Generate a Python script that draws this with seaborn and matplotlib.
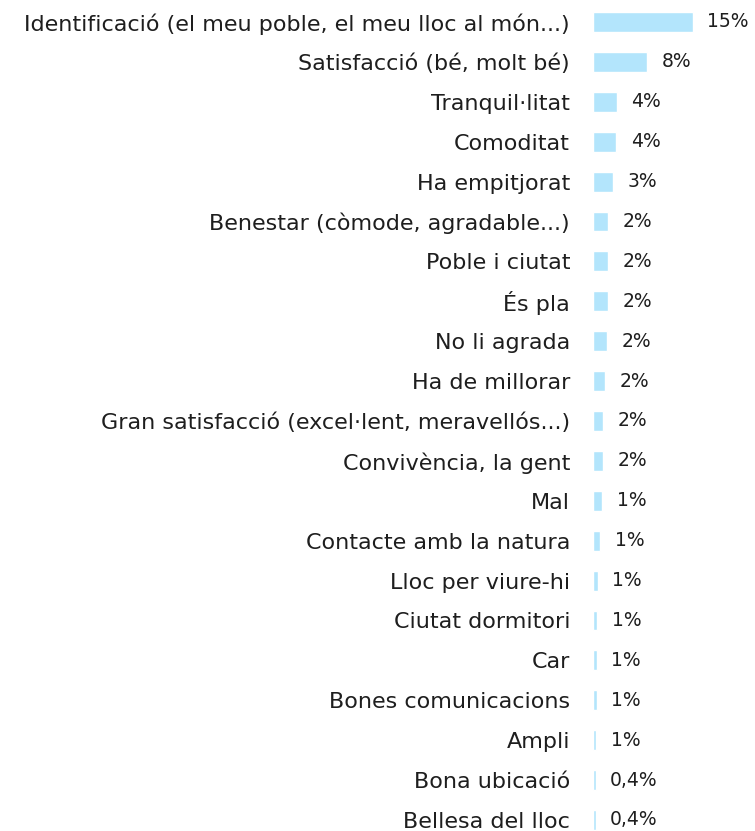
import matplotlib
matplotlib.use("Agg")
from matplotlib import pyplot as plt
import pandas as pd
import seaborn as sns

categories = [
    "Identificació (el meu poble, el meu lloc al món...)",
    "Satisfacció (bé, molt bé)",
    "Tranquil·litat",
    "Comoditat",
    "Ha empitjorat",
    "Benestar (còmode, agradable...)",
    "Poble i ciutat",
    "És pla",
    "No li agrada",
    "Ha de millorar",
    "Gran satisfacció (excel·lent, meravellós...)",
    "Convivència, la gent",
    "Mal",
    "Contacte amb la natura",
    "Lloc per viure-hi",
    "Ciutat dormitori",
    "Car",
    "Bones comunicacions",
    "Ampli",
    "Bona ubicació",
    "Bellesa del lloc",
]
values = [15.0, 8.1, 3.6, 3.5, 3.0, 2.3, 2.2, 2.2, 2.1, 1.8, 1.5, 1.5, 1.4,
          1.1, 0.7, 0.6, 0.55, 0.55, 0.5, 0.4, 0.4]
value_labels = ["15%", "8%", "4%", "4%", "3%", "2%", "2%", "2%", "2%", "2%",
                "2%", "2%", "1%", "1%", "1%", "1%", "1%", "1%", "1%",
                "0,4%", "0,4%"]

df = pd.DataFrame({"categoria": categories, "percentatge": values})

sns.set_style("white")
plt.rcParams['font.family'] = ['DejaVu Sans']

fig = plt.figure(figsize=(7.55, 8.31), dpi=100)
ax = fig.add_axes([593 / 755, 0, 162 / 755, 1])

sns.barplot(data=df, y="categoria", x="percentatge", orient="h",
            color="#b3e5fc", width=0.5, saturation=1, ax=ax)

# etiquetes de valor a la dreta de cada barra
ax.bar_label(ax.containers[0], labels=value_labels, padding=10.5,
             fontsize=13.5, color="#1e1e1e")

ax.set_xlim(0, 162 / 6.65)
ax.set_ylim(20.276, -0.551)
ax.set_xlabel("")
ax.set_ylabel("")
ax.set_xticks([])
ax.tick_params(axis="y", length=0, pad=16.5, labelsize=16, labelcolor="#1e1e1e")
for s in ax.spines.values():
    s.set_visible(False)
ax.patch.set_visible(False)

plt.savefig("out.png", dpi=100)
